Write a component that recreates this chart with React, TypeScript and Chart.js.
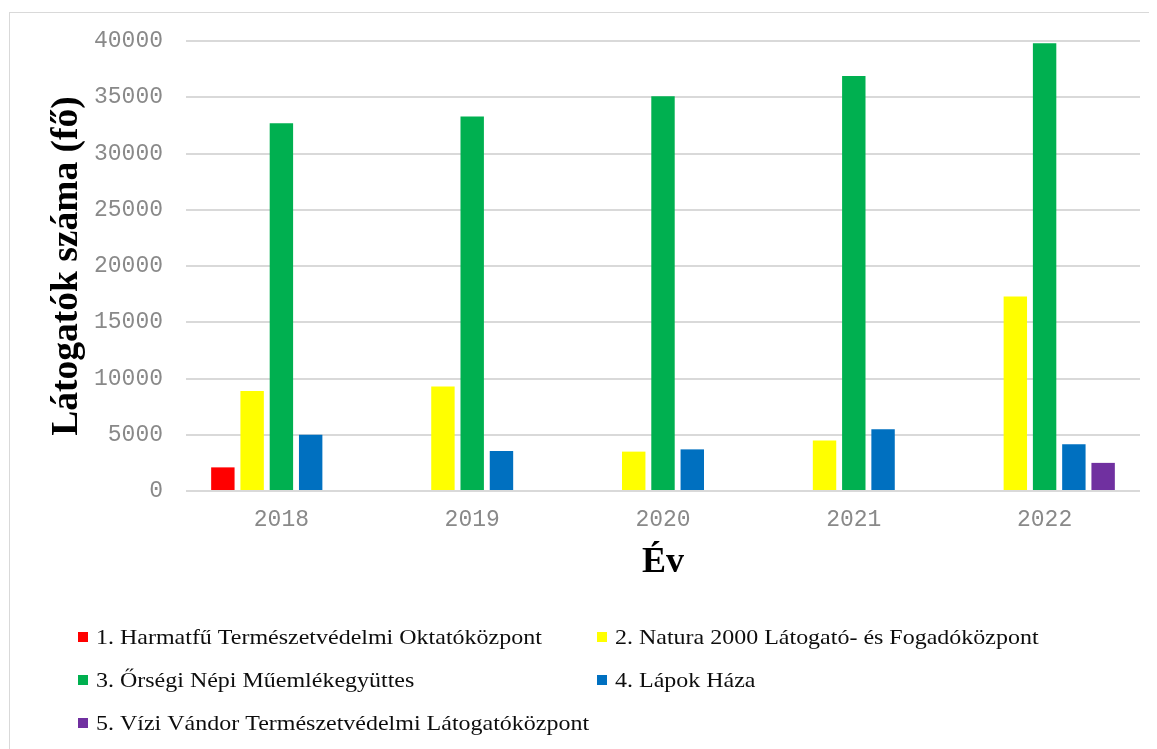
import React, { useEffect, useRef } from 'react';
import { Chart, registerables } from 'chart.js';

Chart.register(...registerables);

// ---- Data ----
const years = ['2018', '2019', '2020', '2021', '2022'];
const seriesNames = [
  '1. Harmatfű Természetvédelmi Oktatóközpont',
  '2. Natura 2000 Látogató- és Fogadóközpont',
  '3. Őrségi Népi Műemlékegyüttes',
  '4. Lápok Háza',
  '5. Vízi Vándor Természetvédelmi Látogatóközpont',
];
const harmatfu = [2100, null, null, null, null];
const natura2000 = [8900, 9300, 3500, 4500, 17300];
const orsegi = [32700, 33300, 35100, 36900, 39800];
const lapokHaza = [5000, 3550, 3700, 5500, 4150];
const viziVandor = [null, null, null, null, 2500];
const seriesColors = ['#FF0000', '#FFFF00', '#00B050', '#0070C0', '#7030A0'];
const yMin = 0;
const yMax = 40000;
const yStep = 5000;
const yTitle = 'Látogatók száma (fő)';
const xTitle = 'Év';

// ---- Layout constants ----
const W = 1141;
const H = 741;
const LEGEND_COL_X = [70, 589];
const LEGEND_ROW_Y = [629, 672, 715];
const LEGEND_STRETCH = 1.09;

const framePlugin = {
  id: 'frame',
  beforeDraw(chart: any) {
    const ctx = chart.ctx;
    ctx.save();
    ctx.fillStyle = '#ffffff';
    ctx.fillRect(0, 0, chart.width, chart.height);
    ctx.strokeStyle = '#d9d9d9';
    ctx.lineWidth = 1;
    ctx.strokeRect(1.5, 4.5, chart.width + 10, chart.height + 10);
    ctx.restore();
  },
};

const gridLegendPlugin = {
  id: 'gridLegend',
  afterDraw(chart: any) {
    const ctx = chart.ctx;
    ctx.save();
    ctx.font = '22px "Liberation Serif"';
    ctx.textBaseline = 'middle';
    ctx.textAlign = 'left';
    chart.data.datasets.forEach((ds: any, i: number) => {
      const col = i % 2;
      const row = Math.floor(i / 2);
      const x = LEGEND_COL_X[col];
      const y = LEGEND_ROW_Y[row];
      ctx.fillStyle = ds.backgroundColor;
      ctx.fillRect(x, y - 5, 10, 10);
      ctx.fillStyle = '#0d0d0d';
      ctx.save();
      ctx.translate(x + 18, y + 1);
      ctx.scale(LEGEND_STRETCH, 1);
      ctx.fillText(ds.label, 0, 0);
      ctx.restore();
    });
    ctx.restore();
  },
};

export default function App() {
  const ref = useRef<HTMLCanvasElement | null>(null);

  useEffect(() => {
    document.body.style.overflow = 'hidden';
    const canvas = ref.current;
    if (!canvas) return;
    const seriesData = [harmatfu, natura2000, orsegi, lapokHaza, viziVandor];
    const chart = new Chart(canvas, {
      type: 'bar',
      data: {
        labels: years,
        datasets: seriesData.map((d, i) => ({
          label: seriesNames[i],
          data: d,
          backgroundColor: seriesColors[i],
          borderWidth: 0,
          categoryPercentage: 0.767,
          barPercentage: 0.8,
        })),
      },
      options: {
        responsive: false,
        animation: false,
        devicePixelRatio: 1,
        layout: { padding: { top: 33, left: 37, right: 9, bottom: 158 } },
        plugins: {
          legend: { display: false },
          tooltip: { enabled: false },
        },
        scales: {
          x: {
            grid: { display: false },
            border: { display: false },
            ticks: {
              color: '#898989',
              font: { family: '"Liberation Mono", monospace', size: 23 },
              padding: 7,
            },
            title: {
              display: true,
              text: xTitle,
              color: '#000000',
              font: { family: '"Liberation Serif", serif', size: 36, weight: 'bold' },
              padding: { top: 0, bottom: 7 },
            },
            afterFit(scale: any) {
              scale.height = 100;
            },
          },
          y: {
            min: yMin,
            max: yMax,
            grid: {
              color: '#d9d9d9',
              lineWidth: 2,
              drawTicks: true,
              tickLength: 16,
              tickColor: 'rgba(0,0,0,0)',
            },
            border: { display: false },
            ticks: {
              stepSize: yStep,
              color: '#898989',
              font: { family: '"Liberation Mono", monospace', size: 23 },
              padding: 7,
              callback: (v: any) => String(v),
            },
            title: {
              display: true,
              text: yTitle,
              color: '#000000',
              font: { family: '"Liberation Serif", serif', size: 37.5, weight: 'bold' },
              padding: { top: 0, bottom: 0 },
            },
            afterFit(scale: any) {
              scale.width = 141;
            },
          },
        },
      },
      plugins: [framePlugin, gridLegendPlugin],
    });
    return () => chart.destroy();
  }, []);

  return (
    <div style={{ width: W, height: H }}>
      <canvas ref={ref} width={W} height={H} style={{ display: 'block' }} />
    </div>
  );
}
